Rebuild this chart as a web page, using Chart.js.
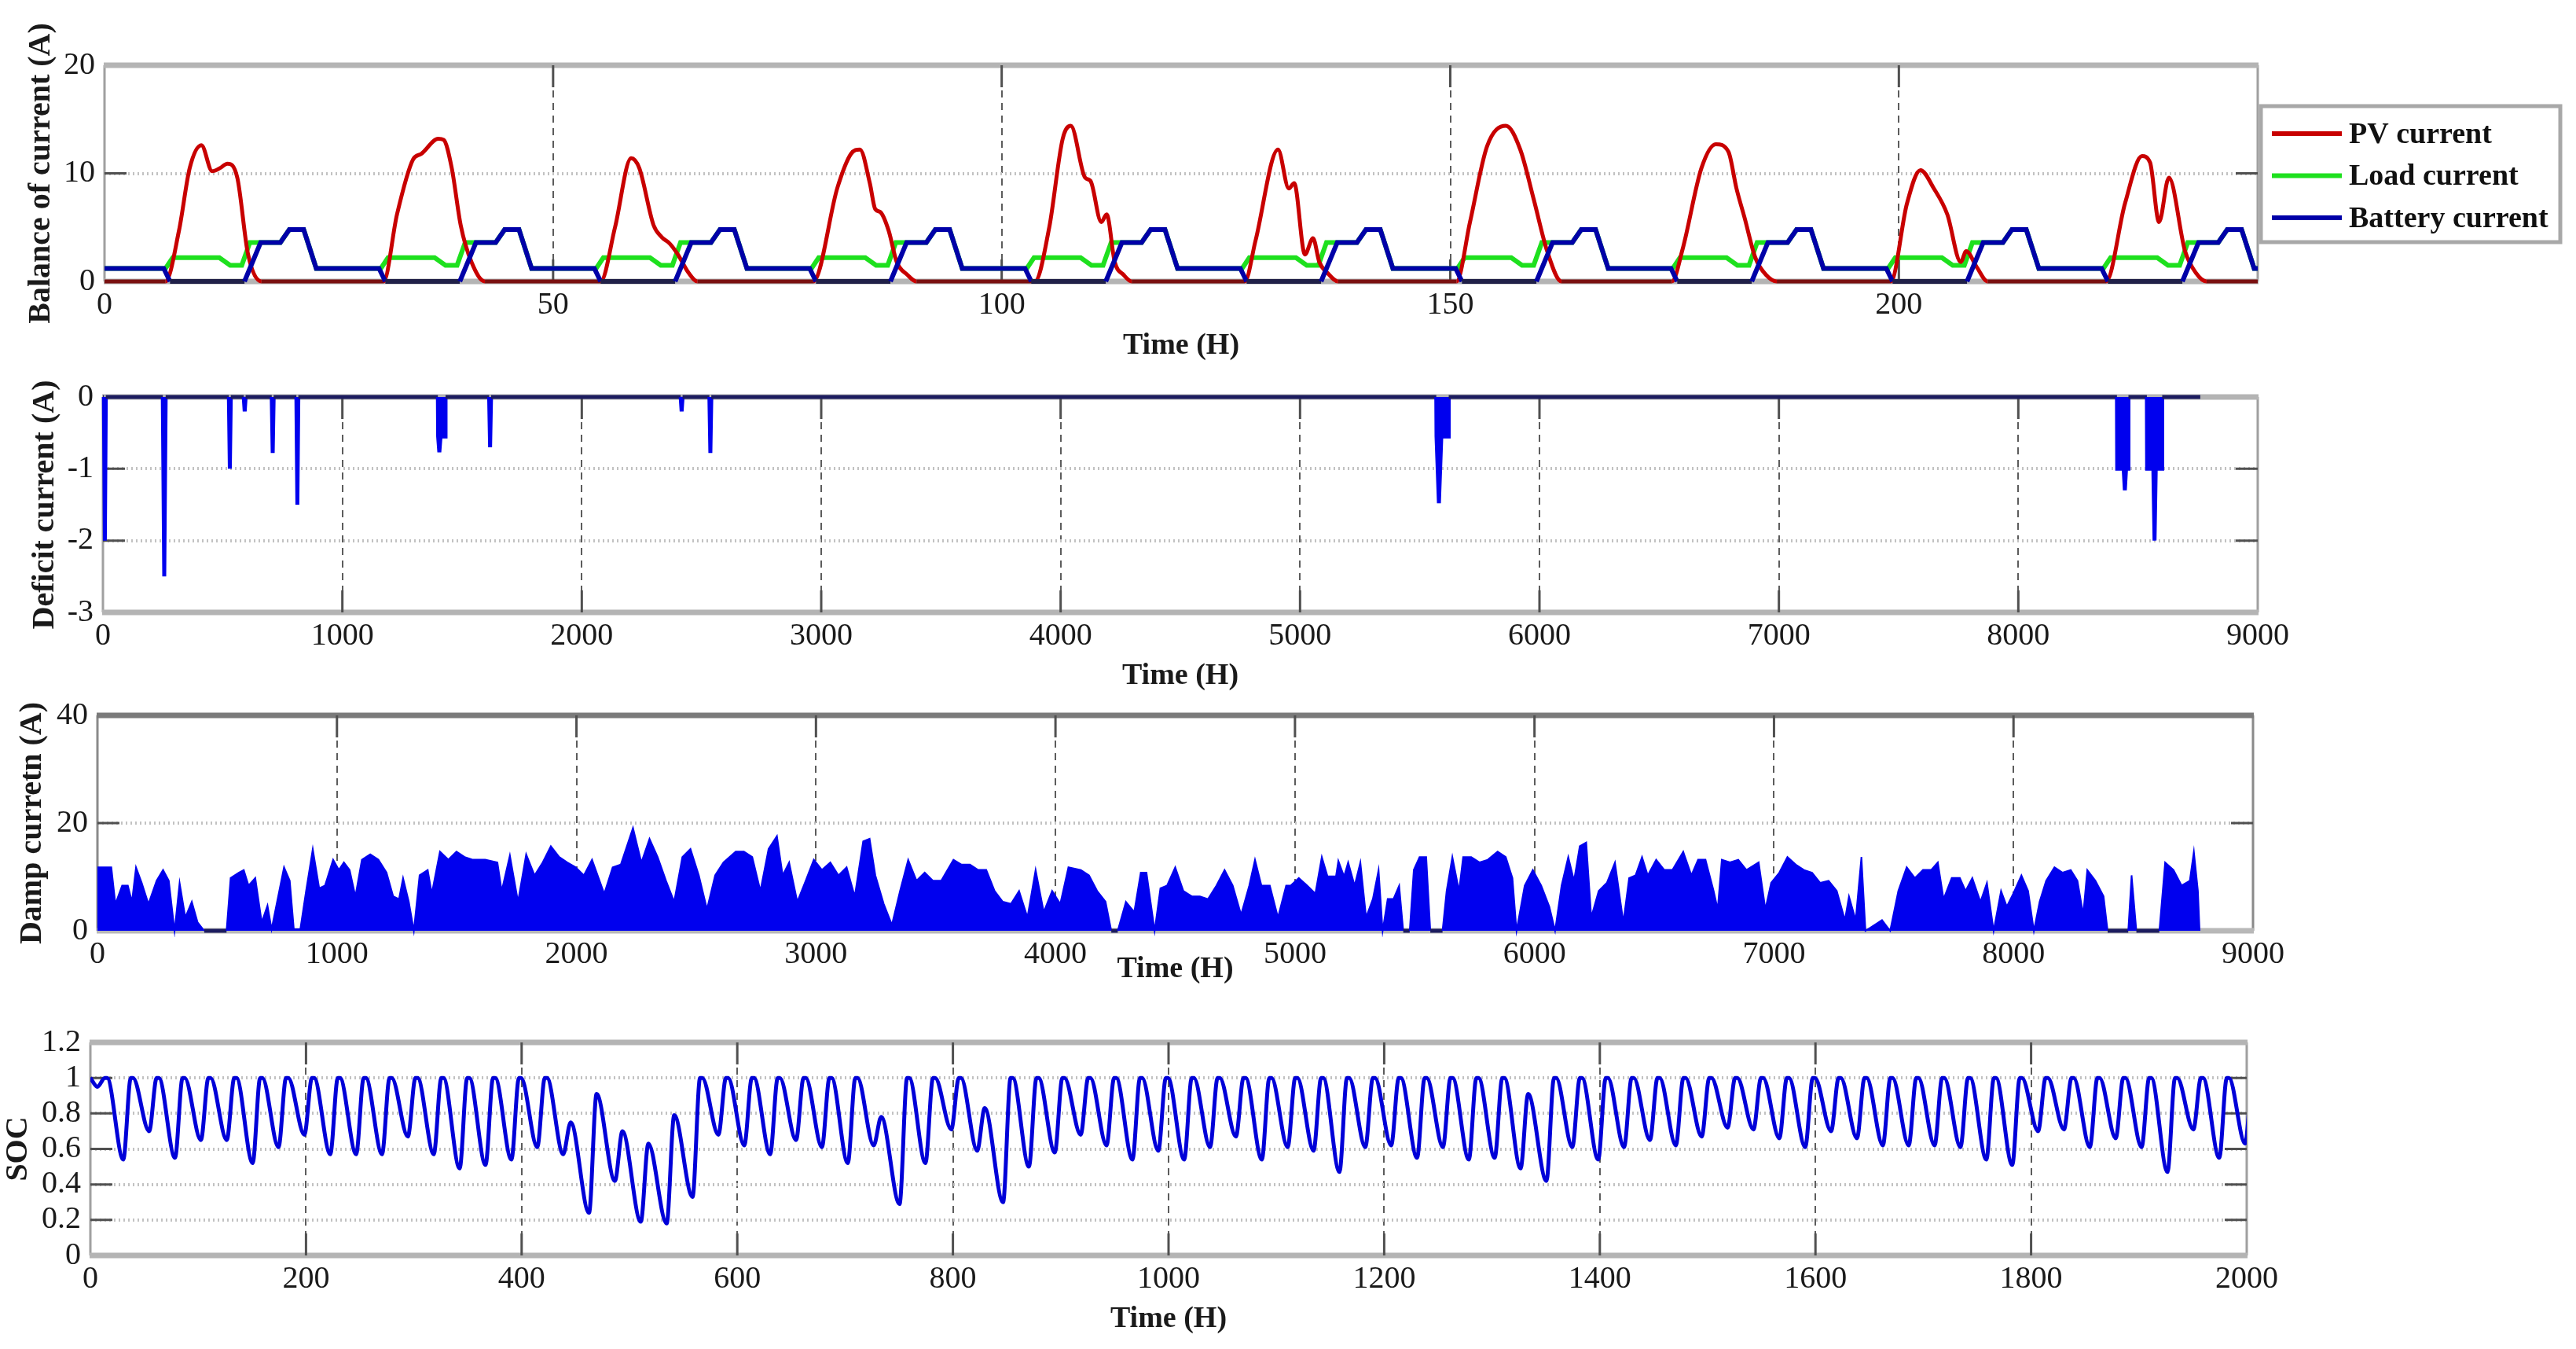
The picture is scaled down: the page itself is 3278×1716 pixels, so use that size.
<!DOCTYPE html>
<html>
<head>
<meta charset="utf-8">
<script src="https://cdn.jsdelivr.net/npm/chart.js@4.4.0/dist/chart.umd.min.js"></script>
<style>
  body { margin: 0; background: #fff; width: 3278px; height: 1716px; overflow: hidden; position: relative; }
  canvas { position: absolute; left: 0; }
</style>
</head>
<body>
<canvas id="balance" width="3278" height="480" style="top:0px"></canvas>
<canvas id="deficit" width="3278" height="460" style="top:440px"></canvas>
<canvas id="damp" width="3278" height="420" style="top:860px"></canvas>
<canvas id="soc" width="3278" height="426" style="top:1290px"></canvas>
<script>
// ---------- panel 1 : balance of current over 10 days (hours) ----------
const pvT = [0, 6.8, 8.3, 9.5, 10.8, 12.0, 12.9, 13.7, 14.8, 16.0, 17.5,
  31.1, 32.6, 34.4, 35.3, 37.2, 37.8, 38.7, 39.7, 40.9, 42.4,
  55.3, 56.9, 58.7, 59.6, 61.2, 62.1, 63.0, 63.9, 65.1, 66.1,
  79.0, 81.7, 83.2, 84.2, 85.3, 85.9, 86.5, 87.4, 88.3, 89.5, 90.5,
  103.7, 105.3, 106.8, 107.7, 109.3, 109.9, 111.1, 111.7, 112.6, 113.6, 114.5,
  127.1, 128.3, 130.8, 132.0, 132.6, 133.8, 134.7, 135.4, 136.3, 137.5,
  150.7, 152.2, 154.1, 156.2, 157.8, 159.3, 160.8, 162.4,
  174.7, 175.9, 178.0, 179.6, 181.0, 181.9, 182.8, 184.0, 185.2, 186.4,
  199.1, 200.9, 202.4, 203.9, 205.4, 206.9, 207.5, 208.7, 209.9,
  223.1, 225.2, 227.1, 228.0, 229.0, 230.1, 231.9, 233.1, 234.3, 240];
const pvV = [0, 0, 4.7, 10.5, 12.6, 10.2, 10.5, 10.9, 9.6, 2.5, 0,
  0, 6.2, 11.3, 11.8, 13.2, 13.1, 10.5, 5.2, 1.8, 0,
  0, 5.0, 11.4, 10.5, 5.2, 4.1, 3.5, 2.5, 0.8, 0,
  0, 8.7, 11.8, 12.2, 9.1, 6.7, 6.4, 4.7, 1.8, 0.6, 0,
  0, 5.0, 13.2, 14.4, 9.6, 9.3, 5.5, 6.2, 1.8, 0.6, 0,
  0, 3.8, 12.2, 8.6, 9.1, 2.5, 4.0, 1.8, 0.8, 0,
  0, 5.5, 12.5, 14.4, 12.2, 7.6, 2.8, 0,
  0, 3.0, 10.5, 12.7, 12.0, 8.6, 5.9, 2.2, 0.6, 0,
  0, 7.2, 10.3, 8.6, 6.2, 1.8, 2.8, 1.3, 0,
  0, 7.2, 11.6, 11.0, 5.5, 9.6, 2.8, 0.8, 0, 0];

// load and battery repeat the same daily profile (hour of day)
const loadHour = [0, 6.8, 7.6, 12.8, 14.0, 15.3, 16.2, 19.6, 20.6, 22.2, 23.6];
const loadVal  = [1.2, 1.2, 2.2, 2.2, 1.5, 1.5, 3.6, 3.6, 4.8, 4.8, 1.2];
const battHour = [0, 6.6, 7.3, 15.6, 17.4, 19.6, 20.6, 22.2, 23.6];
const battVal  = [1.2, 1.2, 0, 0, 3.6, 3.6, 4.8, 4.8, 1.2];
const nDays = 10;

// ---------- panel 2 : deficit current (hours of the year) ----------
const defT = [0, 4, 8, 12, 250, 256, 262, 526, 530, 534, 588, 592, 596, 705, 709, 713, 808, 812, 816,
  1399, 1400, 1405, 1410, 1430, 1431, 1613, 1617, 1621, 2413, 2417, 2421, 2533, 2537, 2541,
  5569, 5570, 5580, 5590, 5620, 5621, 8412, 8413, 8440, 8445, 8450, 8459, 8460,
  8537, 8538, 8564, 8569, 8574, 8600, 8601, 8760];
const defV = [0, 0, -2.0, 0, 0, -2.5, 0, 0, -1.0, 0, 0, -0.2, 0, 0, -0.78, 0, 0, -1.5, 0,
  0, -0.55, -0.77, -0.55, -0.55, 0, 0, -0.7, 0, 0, -0.2, 0, 0, -0.78, 0,
  0, -0.55, -1.48, -0.55, -0.55, 0, 0, -1.0, -1.0, -1.3, -1.0, -1.0, 0,
  0, -1.0, -1.0, -2.0, -1.0, -1.0, 0, 0];

// ---------- panel 3 : damp current ----------
const dampT = [0, 58, 75, 103, 127, 144, 161, 185, 213, 247, 274, 298, 322, 343, 367, 394, 418, 446, 539,
  556, 590, 611, 631, 659, 686, 710, 727, 779, 803, 820, 847, 871, 899, 926, 950, 984, 1008, 1029, 1053,
  1077, 1104, 1139, 1173, 1207, 1235, 1259, 1276, 1300, 1321, 1345, 1379, 1396, 1430, 1465, 1499, 1533,
  1568, 1619, 1670, 1688, 1722, 1756, 1790, 1825, 1859, 1893, 1928, 1962, 1996, 2031, 2065, 2116, 2151,
  2185, 2236, 2271, 2305, 2339, 2374, 2408, 2442, 2476, 2511, 2545, 2579, 2614, 2665, 2699, 2734, 2768,
  2802, 2837, 2861, 2888, 2922, 2957, 2991, 3025, 3060, 3094, 3128, 3162, 3197, 3224, 3248, 3283, 3317,
  3351, 3385, 3420, 3454, 3488, 3523, 3574, 3608, 3643, 3677, 3711, 3746, 3780, 3814, 3848, 3883, 3917,
  3951, 3986, 4020, 4054, 4106, 4140, 4174, 4209, 4233, 4260, 4294, 4329, 4356, 4380, 4414, 4438, 4466,
  4500, 4534, 4569, 4603, 4637, 4672, 4706, 4740, 4775, 4809, 4833, 4860, 4895, 4929, 4963,
  4982, 5016, 5051, 5085, 5112, 5136, 5171, 5181, 5205, 5222, 5249, 5273, 5297, 5325, 5349, 5366, 5387,
  5411, 5435, 5452, 5479, 5496, 5520, 5548, 5565, 5616, 5633, 5657, 5685, 5702, 5736, 5771, 5805, 5846,
  5880, 5908, 5925, 5959, 5993, 6028, 6062, 6086, 6113, 6141, 6165, 6189, 6216, 6237, 6268, 6302, 6336,
  6371, 6395, 6422, 6449, 6473, 6508, 6542, 6576, 6621, 6655, 6683, 6714, 6748, 6765, 6782, 6816, 6851,
  6885, 6936, 6964, 6988, 7022, 7056, 7091, 7125, 7159, 7193, 7228, 7262, 7296, 7313, 7341, 7365, 7382,
  7451, 7485, 7519, 7554, 7588, 7622, 7656, 7684, 7708, 7742, 7776, 7800, 7828, 7862, 7889, 7917, 7948,
  7972, 7999, 8033, 8061, 8085, 8109, 8136, 8171, 8205, 8239, 8267, 8291, 8308, 8342, 8376, 8393, 8479,
  8493, 8513, 8609, 8633, 8668, 8702, 8736, 8753, 8770, 8777];
const dampV = [11.8, 11.8, 5.0, 8.4, 8.4, 5.4, 11.8, 8.9, 5.0, 9.3, 11.3, 9.3, 0, 8.9, 2.5, 5.4, 1.6, 0, 0,
  9.8, 10.8, 11.3, 8.4, 9.8, 1.6, 4.7, 0.3, 11.8, 9.3, 0.3, 0.3, 7.4, 15.2, 7.9, 8.4, 13.2, 11.3, 12.7, 11.3,
  6.4, 13.2, 14.2, 13.2, 10.8, 6.4, 5.9, 9.8, 5.4, 0, 10.3, 11.3, 6.9, 14.7, 13.2, 14.7, 13.7,
  13.2, 13.2, 12.7, 7.4, 14.0, 5.4, 14.2, 10.3, 12.7, 15.7, 13.7, 12.7, 11.8, 10.3, 13.2, 6.9, 11.8,
  12.3, 19.1, 12.7, 17.1, 13.7, 9.3, 5.4, 13.7, 15.2, 10.3, 4.0, 10.3, 12.7, 14.7, 14.7, 13.7, 7.4,
  15.2, 17.6, 10.3, 12.7, 5.4, 9.3, 13.2, 11.3, 12.7, 10.3, 11.8, 6.4, 16.6, 17.1, 10.3, 5.0, 1.1,
  7.4, 13.2, 9.3, 10.8, 9.3, 9.3, 13.2, 12.3, 12.3, 11.3, 11.3, 7.4, 5.4, 5.0, 7.4, 2.5, 11.3,
  3.5, 7.4, 5.0, 11.8, 11.3, 10.3, 7.4, 5.4, 0, 0, 5.4, 3.5, 10.8, 10.8, 0, 7.9, 8.4,
  11.8, 7.4, 6.4, 6.4, 5.9, 8.4, 11.3, 8.4, 3.0, 8.4, 13.2, 8.4, 8.4, 2.5, 8.4,
  8.4, 9.8, 8.4, 6.9, 13.7, 10.1, 10.1, 13.0, 10.1, 12.7, 8.4, 12.7, 2.5, 5.9, 11.3, 0, 5.9,
  5.9, 8.4, 0, 0, 11.3, 13.7, 13.7, 0, 0, 7.4, 13.7, 7.4, 13.7, 13.7, 12.7, 13.2, 14.7,
  13.7, 9.8, 0, 8.4, 11.3, 8.4, 4.5, 0, 8.4, 13.7, 9.3, 15.7, 16.4, 2.5, 7.4, 8.9, 12.7,
  1.6, 9.8, 10.3, 13.7, 10.3, 13.2, 11.3, 11.3, 14.7, 10.3, 13.2, 13.2, 7.4, 4.0, 13.2, 12.7, 13.2,
  11.3, 12.7, 4.0, 8.9, 10.8, 13.7, 12.3, 11.3, 10.8, 8.9, 9.3, 7.4, 2.0, 6.4, 2.0, 13.7, 0,
  2.0, 0, 7.4, 11.8, 9.8, 11.3, 11.3, 12.7, 5.9, 9.8, 9.8, 7.4, 9.8, 5.4, 8.9, 0, 7.4,
  4.5, 6.9, 10.3, 7.4, 0, 5.4, 9.3, 11.8, 10.8, 11.3, 9.3, 3.0, 11.3, 9.3, 6.4, 0, 0,
  10.3, 0, 0, 12.7, 11.3, 8.4, 9.3, 14.7, 7.4, 0];

// ---------- panel 4 : state of charge, one trough and one peak per day ----------
const socStart = 1.0;
const socTrough = [0.95, 0.54, 0.70, 0.55, 0.65, 0.65, 0.52, 0.61, 0.68, 0.57,
  0.57, 0.57, 0.67, 0.57, 0.49, 0.51, 0.54, 0.61, 0.57, 0.24,
  0.42, 0.19, 0.18, 0.33, 0.68, 0.62, 0.57, 0.65, 0.61, 0.52,
  0.62, 0.29, 0.52, 0.71, 0.59, 0.30, 0.50, 0.58, 0.68, 0.62,
  0.54, 0.59, 0.54, 0.61, 0.67, 0.54, 0.61, 0.59, 0.47, 0.61,
  0.62, 0.55, 0.61, 0.54, 0.55, 0.49, 0.42, 0.61, 0.54, 0.61,
  0.65, 0.62, 0.67, 0.72, 0.71, 0.66, 0.61, 0.70, 0.66, 0.62,
  0.62, 0.62, 0.61, 0.54, 0.51, 0.70, 0.71, 0.61, 0.66, 0.61,
  0.47, 0.71, 0.55, 0.63];
const socPeak = [1, 1, 1, 1, 1, 1, 1, 1, 1, 1,
  1, 1, 1, 1, 1, 1, 1, 1, 0.75, 0.91,
  0.70, 0.63, 0.79, 1, 1, 1, 1, 1, 1, 1,
  0.78, 1, 1, 1, 0.83, 1, 1, 1, 1, 1,
  1, 1, 1, 1, 1, 1, 1, 1, 1, 1,
  1, 1, 1, 1, 1, 0.91, 1, 1, 1, 1,
  1, 1, 1, 1, 1, 1, 1, 1, 1, 1,
  1, 1, 1, 1, 1, 1, 1, 1, 1, 1,
  1, 1, 1, 1];
const socTroughHour = 6.5, socRiseHours = 7, socHoldHours = 2;

// ---------- build point lists ----------
const zip = (t, v) => t.map((x, i) => ({ x: x, y: v[i] }));
function repeatDaily(hours, vals) {
  const pts = [];
  for (let d = 0; d < nDays; d++) hours.forEach((h, i) => pts.push({ x: 24 * d + h, y: vals[i] }));
  pts.push({ x: 24 * nDays, y: vals[vals.length - 1] });
  return pts;
}
const socData = [{ x: 0, y: socStart }];
socTrough.forEach((v, k) => {
  const t0 = 24 * k + socTroughHour;
  socData.push({ x: t0, y: v });
  socData.push({ x: t0 + socRiseHours, y: socPeak[k] });
  if (socPeak[k] >= 1) socData.push({ x: t0 + socRiseHours + socHoldHours, y: socPeak[k] });
});

// ---------- styling helpers ----------
const SERIF = "'Liberation Serif', 'Times New Roman', serif";
const tickFont = { family: SERIF, size: 40 };
const xTitleFont = { family: SERIF, size: 38, weight: 'bold' };
const yTitleFont = { family: SERIF, size: 40, weight: 'bold' };
const isZero = c => c.p0.parsed.y === 0 && c.p1.parsed.y === 0;
const zeroColor = dark => ({ borderColor: c => isZero(c) ? dark : undefined });

// MATLAB-like box with inward tick marks
const axesBox = {
  id: 'axesBox',
  beforeDatasetsDraw(chart, args, o) {
    const { ctx, chartArea: a } = chart;
    const xs = chart.scales.x, ys = chart.scales.y;
    ctx.save();
    ctx.strokeStyle = o.sideColor || '#a0a0a0';
    ctx.lineWidth = 3;
    ctx.beginPath();
    ctx.moveTo(a.left, a.top); ctx.lineTo(a.left, a.bottom);
    ctx.moveTo(a.right, a.top); ctx.lineTo(a.right, a.bottom);
    ctx.stroke();
    ctx.lineWidth = 7;
    ctx.strokeStyle = o.topColor || '#b4b4b4';
    ctx.beginPath(); ctx.moveTo(a.left - 1, a.top); ctx.lineTo(a.right + 1, a.top); ctx.stroke();
    ctx.strokeStyle = o.bottomColor || '#b4b4b4';
    ctx.beginPath(); ctx.moveTo(a.left - 1, a.bottom); ctx.lineTo(a.right + 1, a.bottom); ctx.stroke();
    // inward ticks
    ctx.strokeStyle = '#505050';
    ctx.lineWidth = 3;
    ctx.beginPath();
    xs.ticks.forEach(t => {
      if (t.value <= xs.min || t.value >= xs.max) return;
      const p = xs.getPixelForValue(t.value);
      ctx.moveTo(p, a.bottom); ctx.lineTo(p, a.bottom - 28);
      ctx.moveTo(p, a.top); ctx.lineTo(p, a.top + 28);
    });
    ys.ticks.forEach(t => {
      if (t.value <= ys.min + 1e-9 || t.value >= ys.max - 1e-9) return;
      const p = ys.getPixelForValue(t.value);
      ctx.moveTo(a.left, p); ctx.lineTo(a.left + 28, p);
      ctx.moveTo(a.right, p); ctx.lineTo(a.right - 28, p);
    });
    ctx.stroke();
    ctx.restore();
  }
};

// boxed legend for the first panel
const boxLegend = {
  id: 'boxLegend',
  afterDraw(chart, args, o) {
    if (!o.show) return;
    const ctx = chart.ctx;
    ctx.save();
    ctx.fillStyle = '#fff';
    ctx.fillRect(o.x, o.y, o.w, o.h);
    ctx.strokeStyle = '#a8a8a8';
    ctx.lineWidth = 5;
    ctx.strokeRect(o.x, o.y, o.w, o.h);
    ctx.font = 'bold 38px ' + SERIF;
    ctx.textBaseline = 'middle';
    ctx.fillStyle = '#111';
    o.order.forEach((di, i) => {
      const ds = chart.data.datasets[di];
      const y = o.y + 35 + i * 53.5;
      ctx.strokeStyle = ds.borderColor;
      ctx.lineWidth = 6;
      ctx.beginPath(); ctx.moveTo(o.x + 14, y); ctx.lineTo(o.x + 103, y); ctx.stroke();
      ctx.fillText(ds.label, o.x + 112, y + 2);
    });
    ctx.restore();
  }
};

function makeChart(id, c) {
  const edge = (g, lo, hi) => g.tick && (Math.abs(g.tick.value - lo) < 1e-9 || Math.abs(g.tick.value - hi) < 1e-9);
  return new Chart(document.getElementById(id), {
    type: 'line',
    data: { datasets: c.datasets },
    plugins: [axesBox, boxLegend],
    options: {
      responsive: false,
      animation: false,
      devicePixelRatio: 1,
      layout: { padding: { left: c.padL, right: c.padR, top: c.padT, bottom: c.padB } },
      elements: { point: { radius: 0 } },
      plugins: {
        legend: { display: false },
        tooltip: { enabled: false },
        axesBox: c.box || {},
        boxLegend: c.legend || { show: false }
      },
      scales: {
        x: {
          type: 'linear', min: c.xMin, max: c.xMax,
          afterFit: s => { s.height = c.hx; },
          ticks: { stepSize: c.xStep, includeBounds: false, autoSkip: false, maxRotation: 0,
                   padding: 6, font: tickFont, color: '#1a1a1a', callback: v => String(v) },
          grid: { drawTicks: false, lineWidth: 2,
                  color: g => edge(g, c.xMin, c.xMax) ? 'rgba(0,0,0,0)' : '#5c5c5c' },
          border: { display: false, dash: [9, 7] },
          title: { display: true, text: 'Time (H)', font: xTitleFont, color: '#1a1a1a', padding: 0 }
        },
        y: {
          type: 'linear', min: c.yMin, max: c.yMax,
          afterFit: s => { s.width = c.wy; },
          ticks: { stepSize: c.yStep, autoSkip: false, padding: 12, font: tickFont, color: '#1a1a1a',
                   callback: v => String(Math.round(v * 10) / 10) },
          grid: { drawTicks: false, lineWidth: 4,
                  color: g => edge(g, c.yMin, c.yMax) ? 'rgba(0,0,0,0)' : '#c2c2c2' },
          border: { display: false, dash: [2, 4] },
          title: { display: true, text: c.yTitle, font: yTitleFont, color: '#1a1a1a', padding: 0 }
        }
      }
    }
  });
}

makeChart('balance', {
  padL: 29, padR: 405, padT: 83, padB: 17, wy: 104, hx: 105,
  xMin: 0, xMax: 240, xStep: 50, yMin: 0, yMax: 20, yStep: 10,
  yTitle: 'Balance of current (A)',
  legend: { show: true, x: 2877, y: 135, w: 381, h: 173, order: [0, 1, 2] },
  datasets: [
    { label: 'PV current', data: zip(pvT, pvV), borderColor: '#c80000', borderWidth: 5,
      cubicInterpolationMode: 'monotone', order: 2, clip: 6, segment: zeroColor('#7a1010') },
    { label: 'Load current', data: repeatDaily(loadHour, loadVal), borderColor: '#1ee01e', borderWidth: 6,
      order: 3, clip: 6 },
    { label: 'Battery current', data: repeatDaily(battHour, battVal), borderColor: '#0000a8', borderWidth: 6,
      order: 1, clip: 6, segment: zeroColor('#202048') }
  ]
});

makeChart('deficit', {
  padL: 34, padR: 405, padT: 65, padB: 17, wy: 97, hx: 104,
  xMin: 0, xMax: 9000, xStep: 1000, yMin: -3, yMax: 0, yStep: 1,
  yTitle: 'Deficit current (A)',
  datasets: [
    { label: 'Deficit current', data: zip(defT, defV), borderColor: '#0000ee', backgroundColor: '#0000ee',
      borderWidth: 5, fill: 'origin', clip: 8, segment: zeroColor('#1c1c5e') }
  ]
});

makeChart('damp', {
  padL: 18, padR: 411, padT: 50, padB: 24, wy: 106, hx: 72,
  xMin: 0, xMax: 9000, xStep: 1000, yMin: 0, yMax: 40, yStep: 20,
  yTitle: 'Damp curretn (A)',
  box: { topColor: '#7a7a7a', sideColor: '#8a8a8a', bottomColor: '#b8b8b8' },
  datasets: [
    { label: 'Damp current', data: zip(dampT, dampV), borderColor: '#0000ee', backgroundColor: '#0000ee',
      borderWidth: 2, fill: 'origin', clip: 8,
      segment: { borderColor: c => isZero(c) ? '#1c1c5e' : undefined, borderWidth: c => isZero(c) ? 5 : undefined } }
  ]
});

makeChart('soc', {
  padL: 0, padR: 419, padT: 33, padB: 15, wy: 115, hx: 104,
  xMin: 0, xMax: 2000, xStep: 200, yMin: 0, yMax: 1.2, yStep: 0.2,
  yTitle: 'SOC',
  datasets: [
    { label: 'SOC', data: socData, borderColor: '#0000d8', borderWidth: 5, cubicInterpolationMode: 'monotone' }
  ]
});
</script>
</body>
</html>
